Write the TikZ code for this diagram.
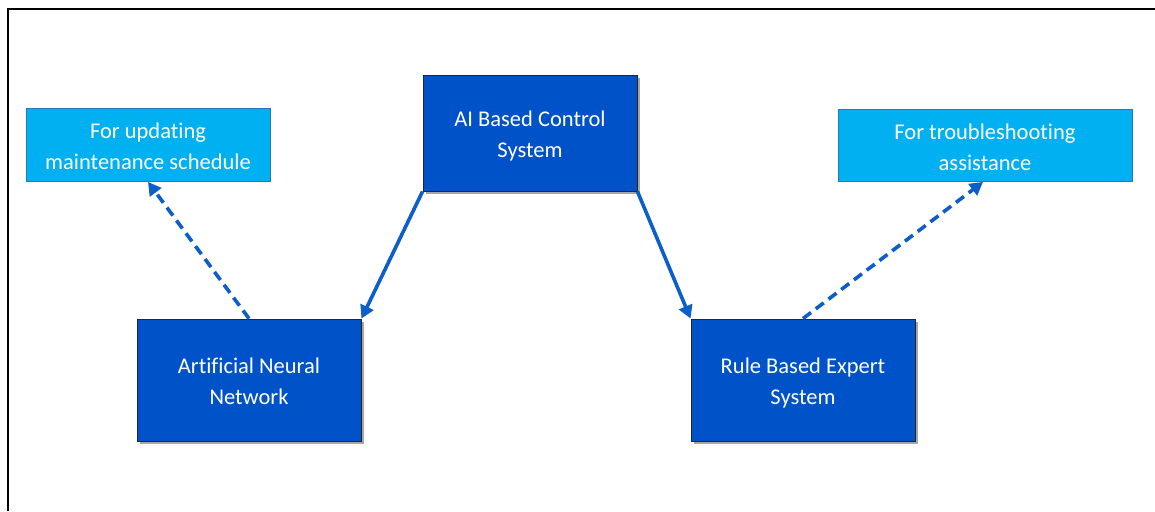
\documentclass[tikz,border=0pt]{standalone}
\usepackage{fontspec}
\setmainfont{Carlito}[Ligatures=NoCommon]
\usetikzlibrary{arrows.meta,shadows}
\definecolor{darkbox}{RGB}{0,82,200}
\definecolor{lightbox}{RGB}{0,176,240}
\definecolor{lightedge}{RGB}{46,117,182}
\definecolor{arrowblue}{RGB}{12,94,202}
% two-line label, lowered a little while keeping its nominal size
\newcommand\boxlabel[1]{\raisebox{-3pt}[\height][\depth]{\begin{tabular}{@{}c@{}}#1\end{tabular}}}
\tikzset{
  mainbox/.style={draw=black!85, line width=0.9pt, fill=darkbox, text=white,
    align=center, inner sep=0pt,
    font=\fontsize{22.5}{31}\selectfont,
    drop shadow={shadow xshift=3pt, shadow yshift=-3pt, opacity=0.35, fill=black}},
  notebox/.style={draw=lightedge, line width=0.9pt, fill=lightbox, text=white,
    align=center, inner sep=0pt,
    font=\fontsize{22.5}{31}\selectfont},
  solidlink/.style={draw=arrowblue, line width=3.6pt,
    -{Triangle[length=13pt,width=14pt]}},
  dashlink/.style={draw=arrowblue, line width=3.6pt,
    dash pattern=on 10pt off 6pt,
    -{Triangle[length=13pt,width=14pt]}}
}
\begin{document}
\begin{tikzpicture}[x=1pt,y=-1pt]
  \useasboundingbox (0,0) rectangle (1155,511);
  % outer frame (left and top edges)
  \draw[line width=2pt, black] (8,511) -- (8,9) -- (1155,9);

  \node[mainbox, minimum width=214pt, minimum height=116pt] (ai) at (530,133)
    {\boxlabel{AI Based Control\\System}};
  \node[mainbox, minimum width=224pt, minimum height=122pt] (ann) at (249,380)
    {\boxlabel{Artificial Neural\\Network}};
  \node[mainbox, minimum width=224pt, minimum height=122pt] (rbes) at (803,380)
    {\boxlabel{Rule Based Expert\\System}};
  \node[notebox, minimum width=244pt, minimum height=73pt] (upd) at (148,145)
    {\boxlabel{For updating\\maintenance schedule}};
  \node[notebox, minimum width=294pt, minimum height=72pt] (tsa) at (985,145.5)
    {\boxlabel{For troubleshooting\\assistance}};

  \draw[solidlink] (ai.south west) -- (ann.north east);
  \draw[solidlink] (ai.south east) -- (rbes.north west);
  \draw[dashlink] (ann.north) -- (upd.south);
  \draw[dashlink] (rbes.north) -- ([xshift=-2pt]tsa.south);
\end{tikzpicture}
\end{document}
